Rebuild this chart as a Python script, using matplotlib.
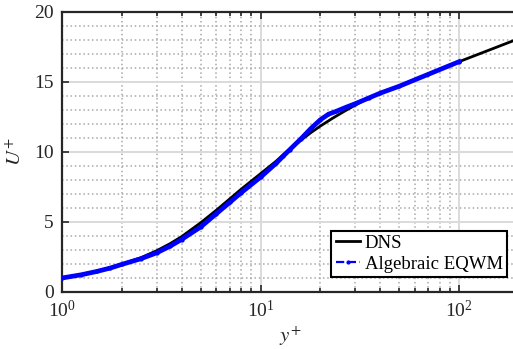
import matplotlib
matplotlib.use("Agg")
import matplotlib.pyplot as plt
from matplotlib.lines import Line2D
from matplotlib.ticker import LogLocator, MultipleLocator, NullFormatter

plt.rcParams['font.family'] = ['Liberation Serif', 'DejaVu Serif']
plt.rcParams['mathtext.fontset'] = 'stix'

# DNS profile
dns_y = [1, 1.25, 1.5, 1.75, 2, 2.5, 3, 3.5, 4, 5, 6, 7, 8, 10, 12, 13, 14, 16, 18, 20, 23, 26, 30, 35, 40, 50, 70, 100, 140, 200]
dns_u = [1.0, 1.25, 1.5, 1.74, 2.0, 2.45, 2.95, 3.45, 3.95, 4.95, 5.85, 6.65, 7.35, 8.45, 9.35, 9.8, 10.2, 10.85, 11.4, 11.85, 12.4, 12.85, 13.35, 13.85, 14.2, 14.7, 15.55, 16.45, 17.25, 18.1]

# Algebraic EQWM profile
eq_y = [1, 1.25, 1.5, 1.75, 2, 2.5, 3, 3.5, 4, 5, 6, 7, 8, 10, 12, 13, 14, 16, 18, 20, 22, 24, 27, 30, 35, 40, 50, 70, 100]
eq_u = [1.0, 1.23, 1.47, 1.71, 1.97, 2.38, 2.8, 3.27, 3.75, 4.65, 5.6, 6.4, 7.1, 8.2, 9.2, 9.7, 10.15, 10.95, 11.7, 12.3, 12.7, 12.9, 13.2, 13.45, 13.85, 14.2, 14.7, 15.55, 16.45]

xlim = (1, 200)
ylim = (0, 20)
labels = ['DNS', 'Algebraic EQWM']

W, H = 513, 349
fig = plt.figure(figsize=(W / 100, H / 100), dpi=100)
left, right, bottom, top = 62, 518.8, 292, 12
ax = fig.add_axes([left / W, 1 - bottom / H, (right - left) / W, (bottom - top) / H])

ax.plot(dns_y, dns_u, color='black', lw=2.0, zorder=3)
ax.plot(eq_y, eq_u, color='blue', lw=3.4, ls='-', marker='.', ms=4, zorder=4)

ax.set_xscale('log')
ax.set_xlim(*xlim)
ax.set_ylim(*ylim)
ax.xaxis.set_major_locator(LogLocator(base=10, numticks=10))
ax.xaxis.set_minor_locator(LogLocator(base=10, subs=range(2, 10), numticks=20))
ax.xaxis.set_minor_formatter(NullFormatter())
ax.yaxis.set_major_locator(MultipleLocator(5))
ax.yaxis.set_minor_locator(MultipleLocator(1))

ax.grid(which='major', color='#dadada', lw=1.4, ls='-', zorder=0)
ax.grid(which='minor', color='#a8a8a8', lw=1.1, ls=(0, (1.0, 1.8)), zorder=0)
ax.set_axisbelow(True)

dark = '#262626'
for s in ['left', 'top', 'bottom']:
    ax.spines[s].set_color(dark)
    ax.spines[s].set_linewidth(1.6)
ax.spines['right'].set_visible(False)

ax.tick_params(which='both', direction='in', top=True, right=False, colors=dark,
               labelsize=14, width=1.2)
ax.tick_params(which='major', length=5, pad=6)
ax.tick_params(axis='x', which='minor', length=3)
ax.tick_params(axis='y', which='minor', length=0)

ax.set_xlabel(r'$y^{+}$', fontsize=15, color=dark, labelpad=2)
ax.set_ylabel(r'$U^{+}$', fontsize=15, color=dark, labelpad=6)

handles = [Line2D([], [], color='black', lw=2.0),
           Line2D([], [], color='blue', lw=1.6, ls='--', marker='.', ms=4)]
leg = ax.legend(handles, labels, loc='lower right', bbox_to_anchor=(0.974, 0.054),
                borderaxespad=0, fontsize=13.5, fancybox=False, framealpha=1,
                edgecolor='black', handlelength=1.3, handletextpad=0.25,
                borderpad=0.22, labelspacing=0.2)
leg.get_frame().set_linewidth(1.5)

fig.savefig('out.png', dpi=100)
